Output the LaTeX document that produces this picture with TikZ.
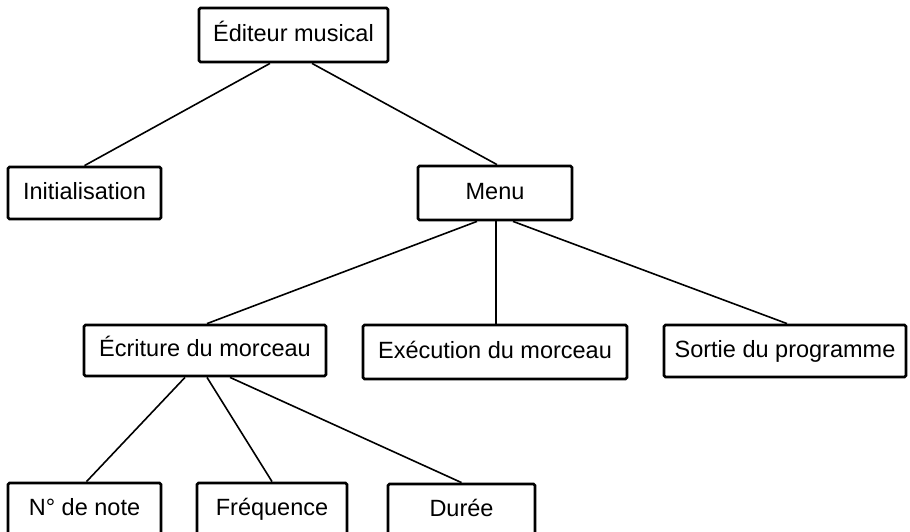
\documentclass[tikz,border=0pt]{standalone}
\usepackage{fontspec}
\setmainfont{Liberation Sans}
\usepackage{tikz}

\begin{document}
\begin{tikzpicture}[x=1pt, y=-1pt,
    boite/.style={draw, line width=2.8pt, rounded corners=1.5pt, inner sep=0pt,
      text height=17pt, text depth=4.5pt, font=\fontsize{23.5}{28}\selectfont},
    lien/.style={line width=1.6pt}]
        \useasboundingbox (0,0) rectangle (910,532);
        \clip (0,0) rectangle (910,532);
        \node [boite, minimum width=189pt, minimum height=54pt] (editeur) at (293.5, 35.0) {Éditeur musical};
        \node [boite, minimum width=153pt, minimum height=52pt] (init) at (84.5, 193.0) {Initialisation};
        \node [boite, minimum width=154pt, minimum height=54pt] (menu) at (495.0, 193.0) {Menu};
        \node [boite, minimum width=242pt, minimum height=51pt] (ecriture) at (205.0, 350.5) {Écriture du morceau};
        \node [boite, minimum width=264pt, minimum height=54pt] (execution) at (495.0, 352.0) {Exécution du morceau};
        \node [boite, minimum width=242pt, minimum height=52pt] (sortie) at (785.0, 351.0) {Sortie du programme};
        \node [boite, minimum width=153pt, minimum height=52pt] (note) at (84.5, 509.0) {N° de note};
        \node [boite, minimum width=150pt, minimum height=52pt] (frequence) at (272.0, 509.0) {Fréquence};
        \node [boite, minimum width=147pt, minimum height=52pt] (duree) at (461.5, 510.0) {Durée};
        \draw [lien] ([xshift=-23.5pt]editeur.south) -- (init.north);
        \draw [lien] ([xshift=18.5pt]editeur.south) -- ([xshift=2pt]menu.north);
        \draw [lien] ([xshift=-18pt]menu.south) -- ([xshift=2pt]ecriture.north);
        \draw [lien] ([xshift=1pt]menu.south) -- ([xshift=1pt]execution.north);
        \draw [lien] ([xshift=18pt]menu.south) -- ([xshift=2pt]sortie.north);
        \draw [lien] ([xshift=-20pt]ecriture.south) -- ([xshift=2pt]note.north);
        \draw [lien] ([xshift=2pt]ecriture.south) -- (frequence.north);
        \draw [lien] ([xshift=25pt]ecriture.south) -- (duree.north);
\end{tikzpicture}
\end{document}
